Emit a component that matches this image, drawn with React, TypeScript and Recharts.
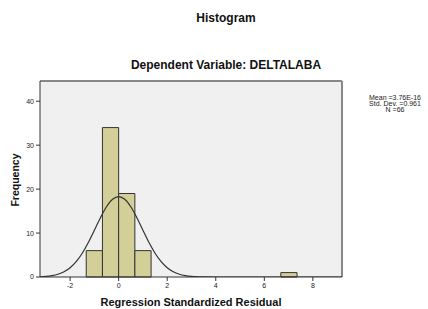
import {
  CartesianGrid,
  ComposedChart,
  Line,
  ReferenceArea,
  ReferenceLine,
  XAxis,
  YAxis,
} from "recharts";

// histogram bins (lower edge, upper edge, count)
const binStarts = [-1.336, -0.668, 0, 0.668, 6.68];
const binEnds = [-0.668, 0, 0.668, 1.336, 7.348];
const binCounts = [6, 34, 19, 6, 1];

// normal curve
const curveX = [
  -3.24, -3, -2.75, -2.5, -2.25, -2, -1.75, -1.5, -1.25, -1, -0.75, -0.5, -0.25, 0,
  0.25, 0.5, 0.75, 1, 1.25, 1.5, 1.75, 2, 2.25, 2.5, 2.75, 3, 3.25, 3.5, 4, 5, 6, 7, 8, 9.2,
];
const curveY = [
  0.06, 0.14, 0.31, 0.62, 1.18, 2.1, 3.49, 5.41, 7.85, 10.65, 13.5, 15.98, 17.69, 18.3,
  17.69, 15.98, 13.5, 10.65, 7.85, 5.41, 3.49, 2.1, 1.18, 0.62, 0.31, 0.14, 0.06, 0.02, 0, 0, 0, 0, 0, 0,
];

const xTicks = [-2, 0, 2, 4, 6, 8];
const yTicks = [0, 10, 20, 30, 40];
const xDomain: [number, number] = [-3.24, 9.2];
const yDomain: [number, number] = [0, 44.6];

const statsLines = ["Mean =3.76E-16", "Std. Dev. =0.961", "N =66"];

const font = "'Liberation Sans', Arial, sans-serif";

const curveData = curveX.map((x, i) => ({ x, y: curveY[i] }));

const App = () => {
  return (
    <div
      style={{
        position: "absolute",
        left: 0,
        top: 0,
        width: 428,
        height: 309,
        background: "#fff",
        fontFamily: font,
      }}
    >
      <ComposedChart
        width={428}
        height={309}
        data={curveData}
        margin={{ top: 81, right: 86, bottom: 12, left: 0 }}
      >
        <CartesianGrid fill="#f0f0f0" horizontal={false} vertical={false} />
        <XAxis
          dataKey="x"
          type="number"
          domain={xDomain}
          ticks={xTicks}
          height={20}
          tickSize={4}
          stroke="#333"
          tick={{ fontSize: 7, fill: "#222", fontFamily: font }}
          allowDataOverflow
        />
        <YAxis
          type="number"
          domain={yDomain}
          ticks={yTicks}
          width={40}
          tickSize={4}
          stroke="#333"
          tick={{ fontSize: 7, fill: "#222", fontFamily: font }}
          allowDataOverflow
        />
        <ReferenceLine y={yDomain[1]} stroke="#888" strokeWidth={2} />
        <ReferenceLine x={xDomain[1]} stroke="#888" strokeWidth={2} />
        {binCounts.map((c, i) => (
          <ReferenceArea
            key={i}
            x1={binStarts[i]}
            x2={binEnds[i]}
            y1={0}
            y2={c}
            fill="#d4cf98"
            fillOpacity={1}
            stroke="#333"
            strokeWidth={1}
          />
        ))}
        <Line
          dataKey="y"
          type="monotone"
          stroke="#333"
          strokeWidth={1.2}
          dot={false}
          isAnimationActive={false}
        />
      </ComposedChart>
      <svg
        width={428}
        height={309}
        style={{ position: "absolute", left: 0, top: 0, pointerEvents: "none" }}
      >
        <text x={226} y={22} textAnchor="middle" fontSize={12} fontWeight="bold" fill="#111">
          Histogram
        </text>
        <text x={226} y={69} textAnchor="middle" fontSize={12} fontWeight="bold" fill="#111">
          Dependent Variable: DELTALABA
        </text>
        <text
          x={0}
          y={0}
          transform="translate(19,180) rotate(-90)"
          textAnchor="middle"
          fontSize={10.5}
          fontWeight="bold"
          fill="#111"
        >
          Frequency
        </text>
        <text x={191} y={306} textAnchor="middle" fontSize={11} fontWeight="bold" fill="#111">
          Regression Standardized Residual
        </text>
        {statsLines.map((s, i) => (
          <text key={s} x={395} y={100 + i * 6} textAnchor="middle" fontSize={7} fill="#222">
            {s}
          </text>
        ))}
      </svg>
    </div>
  );
};

export default App;
